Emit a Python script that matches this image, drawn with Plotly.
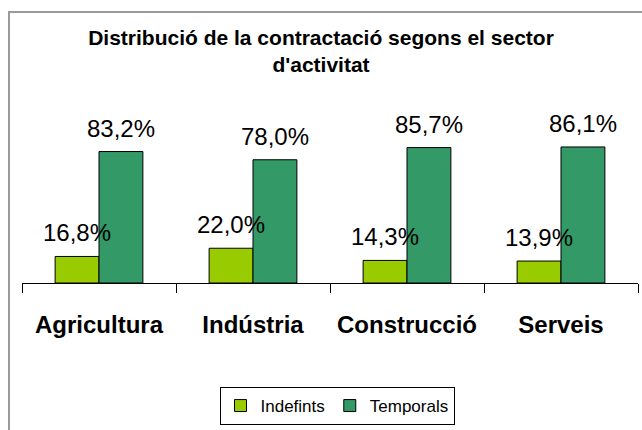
import plotly.graph_objects as go

categories = ["Agricultura", "Indústria", "Construcció", "Serveis"]
indefinits = [16.8, 22.0, 14.3, 13.9]
temporals = [83.2, 78.0, 85.7, 86.1]
series_names = ["Indefints", "Temporals"]
title_lines = ["Distribució de la contractació segons el sector", "d'activitat"]

W, H = 642, 430
ML, MR, MT, MB = 22, 4, 125, 147
PW, PH = W - ML - MR, H - MT - MB

FONT = "Liberation Sans, Arial, sans-serif"
C1, C2 = "#99CC00", "#339966"

fig = go.Figure()
fig.add_trace(go.Bar(name=series_names[0], x=categories, y=indefinits,
                     marker=dict(color=C1, line=dict(color="black", width=1))))
fig.add_trace(go.Bar(name=series_names[1], x=categories, y=temporals,
                     marker=dict(color=C2, line=dict(color="black", width=1))))

def fmt(v):
    return f"{v:.1f}".replace(".", ",") + "%"

annotations = []
for vals, shift in ((indefinits, -22), (temporals, 22)):
    for c, v in zip(categories, vals):
        annotations.append(dict(x=c, y=v, xref="x", yref="y", text=fmt(v),
                                showarrow=False, xshift=shift, yshift=8,
                                yanchor="bottom", xanchor="center",
                                font=dict(family=FONT, size=24, color="black")))

# outer chart border (extends past right/bottom edges)
bx0 = (9 - ML) / PW
by1 = (H - MB - 12) / PH
fig.add_shape(type="rect", xref="paper", yref="paper", x0=bx0, x1=1.2, y0=-2, y1=by1,
              line=dict(color="#9a9a9a", width=2), fillcolor="rgba(0,0,0,0)", layer="below")

fig.update_layout(
    width=W, height=H,
    margin=dict(l=ML, r=MR, t=MT, b=MB, autoexpand=False),
    paper_bgcolor="white", plot_bgcolor="white",
    barmode="group", bargap=0.43, bargroupgap=0,
    title=dict(text="<br>".join(title_lines), x=321 / W, xanchor="center",
               y=1 - 45 / H, yanchor="top",
               font=dict(family=FONT, size=21, color="black", weight="bold")),
    annotations=annotations,
    showlegend=True,
    legend=dict(orientation="h", x=(337 - ML) / PW, xanchor="center",
                y=-(406 - (H - MB)) / PH, yanchor="middle",
                bordercolor="black", borderwidth=1, bgcolor="white",
                font=dict(family=FONT, size=17, color="black"),
                itemwidth=30, tracegroupgap=0),
    xaxis=dict(type="category", showline=True, linecolor="black", linewidth=1,
               ticks="outside", tickson="boundaries", ticklen=9, tickcolor="black",
               showgrid=False, ticklabelstandoff=20, automargin=False,
               tickfont=dict(family=FONT, size=24, color="black", weight="bold")),
    yaxis=dict(range=[0, 100], visible=False, showgrid=False, automargin=False),
)

fig.write_html("out.html", config={"displayModeBar": False},
               post_script="document.body.style.margin='0';")
